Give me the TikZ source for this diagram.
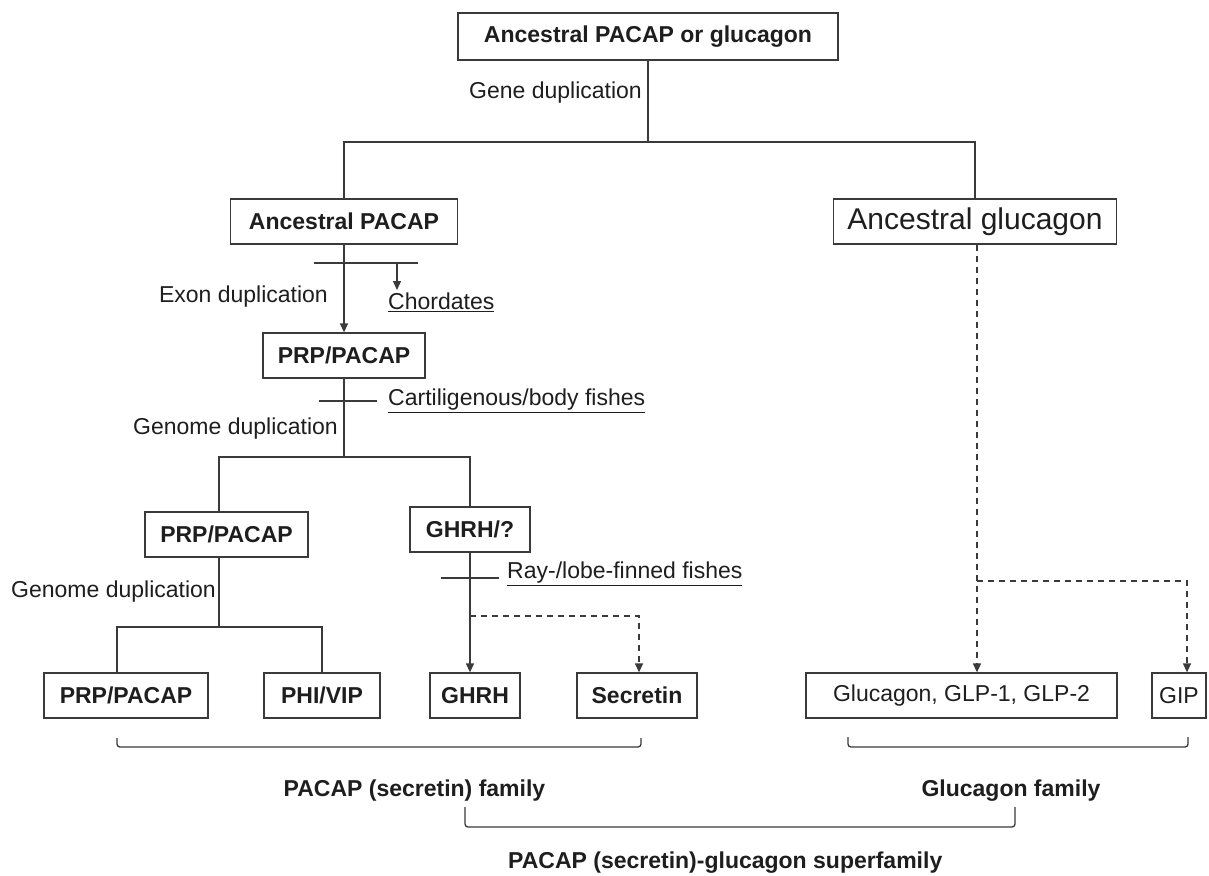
\documentclass[tikz,border=0pt]{standalone}
\usepackage{fontspec}
\setmainfont{Liberation Sans}
\usetikzlibrary{arrows.meta}
\definecolor{ink}{HTML}{1E1E1E}
\definecolor{ln}{HTML}{3A3A3A}
\begin{document}
\begin{tikzpicture}[x=1pt,y=-1pt,
  box/.style={draw=ln, line width=1.3pt, fill=white, text=ink, inner sep=0pt,
    minimum height=45pt, font=\fontsize{23}{27}\selectfont\bfseries},
  rbox/.style={box, font=\fontsize{23}{27}\selectfont},
  lbl/.style={text=ink, inner sep=0pt, font=\fontsize{23}{27}\selectfont},
  blbl/.style={lbl, font=\fontsize{23}{27}\selectfont\bfseries},
  conn/.style={draw=ln, line width=1.3pt},
  arr/.style={conn, -{Triangle[length=9pt,width=8pt]}},
  dconn/.style={conn, dash pattern=on 6pt off 5pt},
  darr/.style={dconn, -{Triangle[length=9pt,width=8pt]}},
  brace/.style={conn, rounded corners=3pt}]
\useasboundingbox[fill=white] (0,0) rectangle (1209,875);

% boxes
\node[box, minimum width=380pt, minimum height=47pt] (top) at (648,36.5) {Ancestral PACAP or glucagon};
\node[box, minimum width=227pt] (ap) at (344,221.5) {Ancestral PACAP};
\node[rbox, minimum width=283pt, font=\fontsize{30}{34}\selectfont] (ag) at (975,221.5) {Ancestral glucagon};
\node[box, minimum width=162pt] (prp1) at (344,355.5) {PRP/PACAP};
\node[box, minimum width=163pt] (prp2) at (226.5,534.5) {PRP/PACAP};
\node[box, minimum width=120pt] (ghrq) at (470,529.5) {GHRH/?};
\node[box, minimum width=164pt] (prp3) at (126,695.5) {PRP/PACAP};
\node[box, minimum width=116pt] (phi) at (322,695.5) {PHI/VIP};
\node[box, minimum width=90pt] (ghrh) at (475,695.5) {GHRH};
\node[box, minimum width=120pt] (sec) at (637,695.5) {Secretin};
\node[rbox, minimum width=311pt] (glu) at (961.5,695.5) {Glucagon, GLP-1, GLP-2};
\node[rbox, minimum width=54pt] (gip) at (1179,695.5) {GIP};

% labels
\node[lbl, anchor=east] (gd) at (642,93) {Gene duplication};
\node[lbl, anchor=east] (ed) at (328,297) {Exon duplication};
\node[lbl, anchor=west] (chord) at (388,302) {\underline{Chordates}};
\node[lbl, anchor=west] (cart) at (388,401) {\underline{Cartiligenous/body fishes}};
\node[lbl, anchor=east] (gnd1) at (338,429) {Genome duplication};
\node[lbl, anchor=east] (gnd2) at (216,592) {Genome duplication};
\node[lbl, anchor=west] (ray) at (507,574) {\underline{Ray-/lobe-finned fishes}};
\node[blbl] (fam1) at (414.5,791) {PACAP (secretin) family};
\node[blbl] (fam2) at (1011,791) {Glucagon family};
\node[blbl, anchor=west] (sfam) at (508,863) {PACAP (secretin)-glucagon superfamily};

% first split
\coordinate (s1) at (648,142);
\draw[conn] (top.south) -- (s1);
\draw[conn] (ap.north) |- (s1) -| (ag.north);

% exon duplication
\draw[arr] (ap.south) -- (prp1.north);
\coordinate (t1a) at (314,263);
\coordinate (t1b) at (418,263);
\draw[conn] (t1a) -- (t1b);
\coordinate (c1) at (397,263);
\draw[arr] (c1) -- (397,290);

% genome duplication 1
\coordinate (s2) at (344,457);
\draw[conn] (prp1.south) -- (s2);
\draw[conn] ([xshift=-7.5pt]prp2.north) |- (s2) -| (ghrq.north);
\coordinate (t2a) at (319,401);
\coordinate (t2b) at (377,401);
\draw[conn] (t2a) -- (t2b);

% genome duplication 2
\coordinate (s3) at (219,627);
\draw[conn] ([xshift=-7.5pt]prp2.south) -- (s3);
\draw[conn] ([xshift=-9pt]prp3.north) |- (s3) -| (phi.north);

% GHRH branch
\draw[arr] (ghrq.south) -- (ghrq.south |- ghrh.north);
\coordinate (t3a) at (441,578);
\coordinate (t3b) at (499,578);
\draw[conn] (t3a) -- (t3b);
\coordinate (d1) at (470,616);
\draw[darr] (d1) -| ([xshift=2pt]sec.north);

% glucagon branch
\draw[darr] ([xshift=2pt]ag.south) -- ([xshift=2pt]ag.south |- glu.north);
\coordinate (d2) at (977,581);
\draw[darr] (d2) -| ([xshift=8pt]gip.north);

% brackets
\coordinate (b1a) at (117,738);
\coordinate (b1b) at (641,747);
\draw[brace] (b1a) |- (b1b) -- (641,738);
\coordinate (b2a) at (848,737);
\coordinate (b2b) at (1188,747);
\draw[brace] (b2a) |- (b2b) -- (1188,737);
\coordinate (b3a) at (465,807);
\coordinate (b3b) at (1015,827);
\draw[brace] (b3a) |- (b3b) -- (1015,807);
\end{tikzpicture}
\end{document}
